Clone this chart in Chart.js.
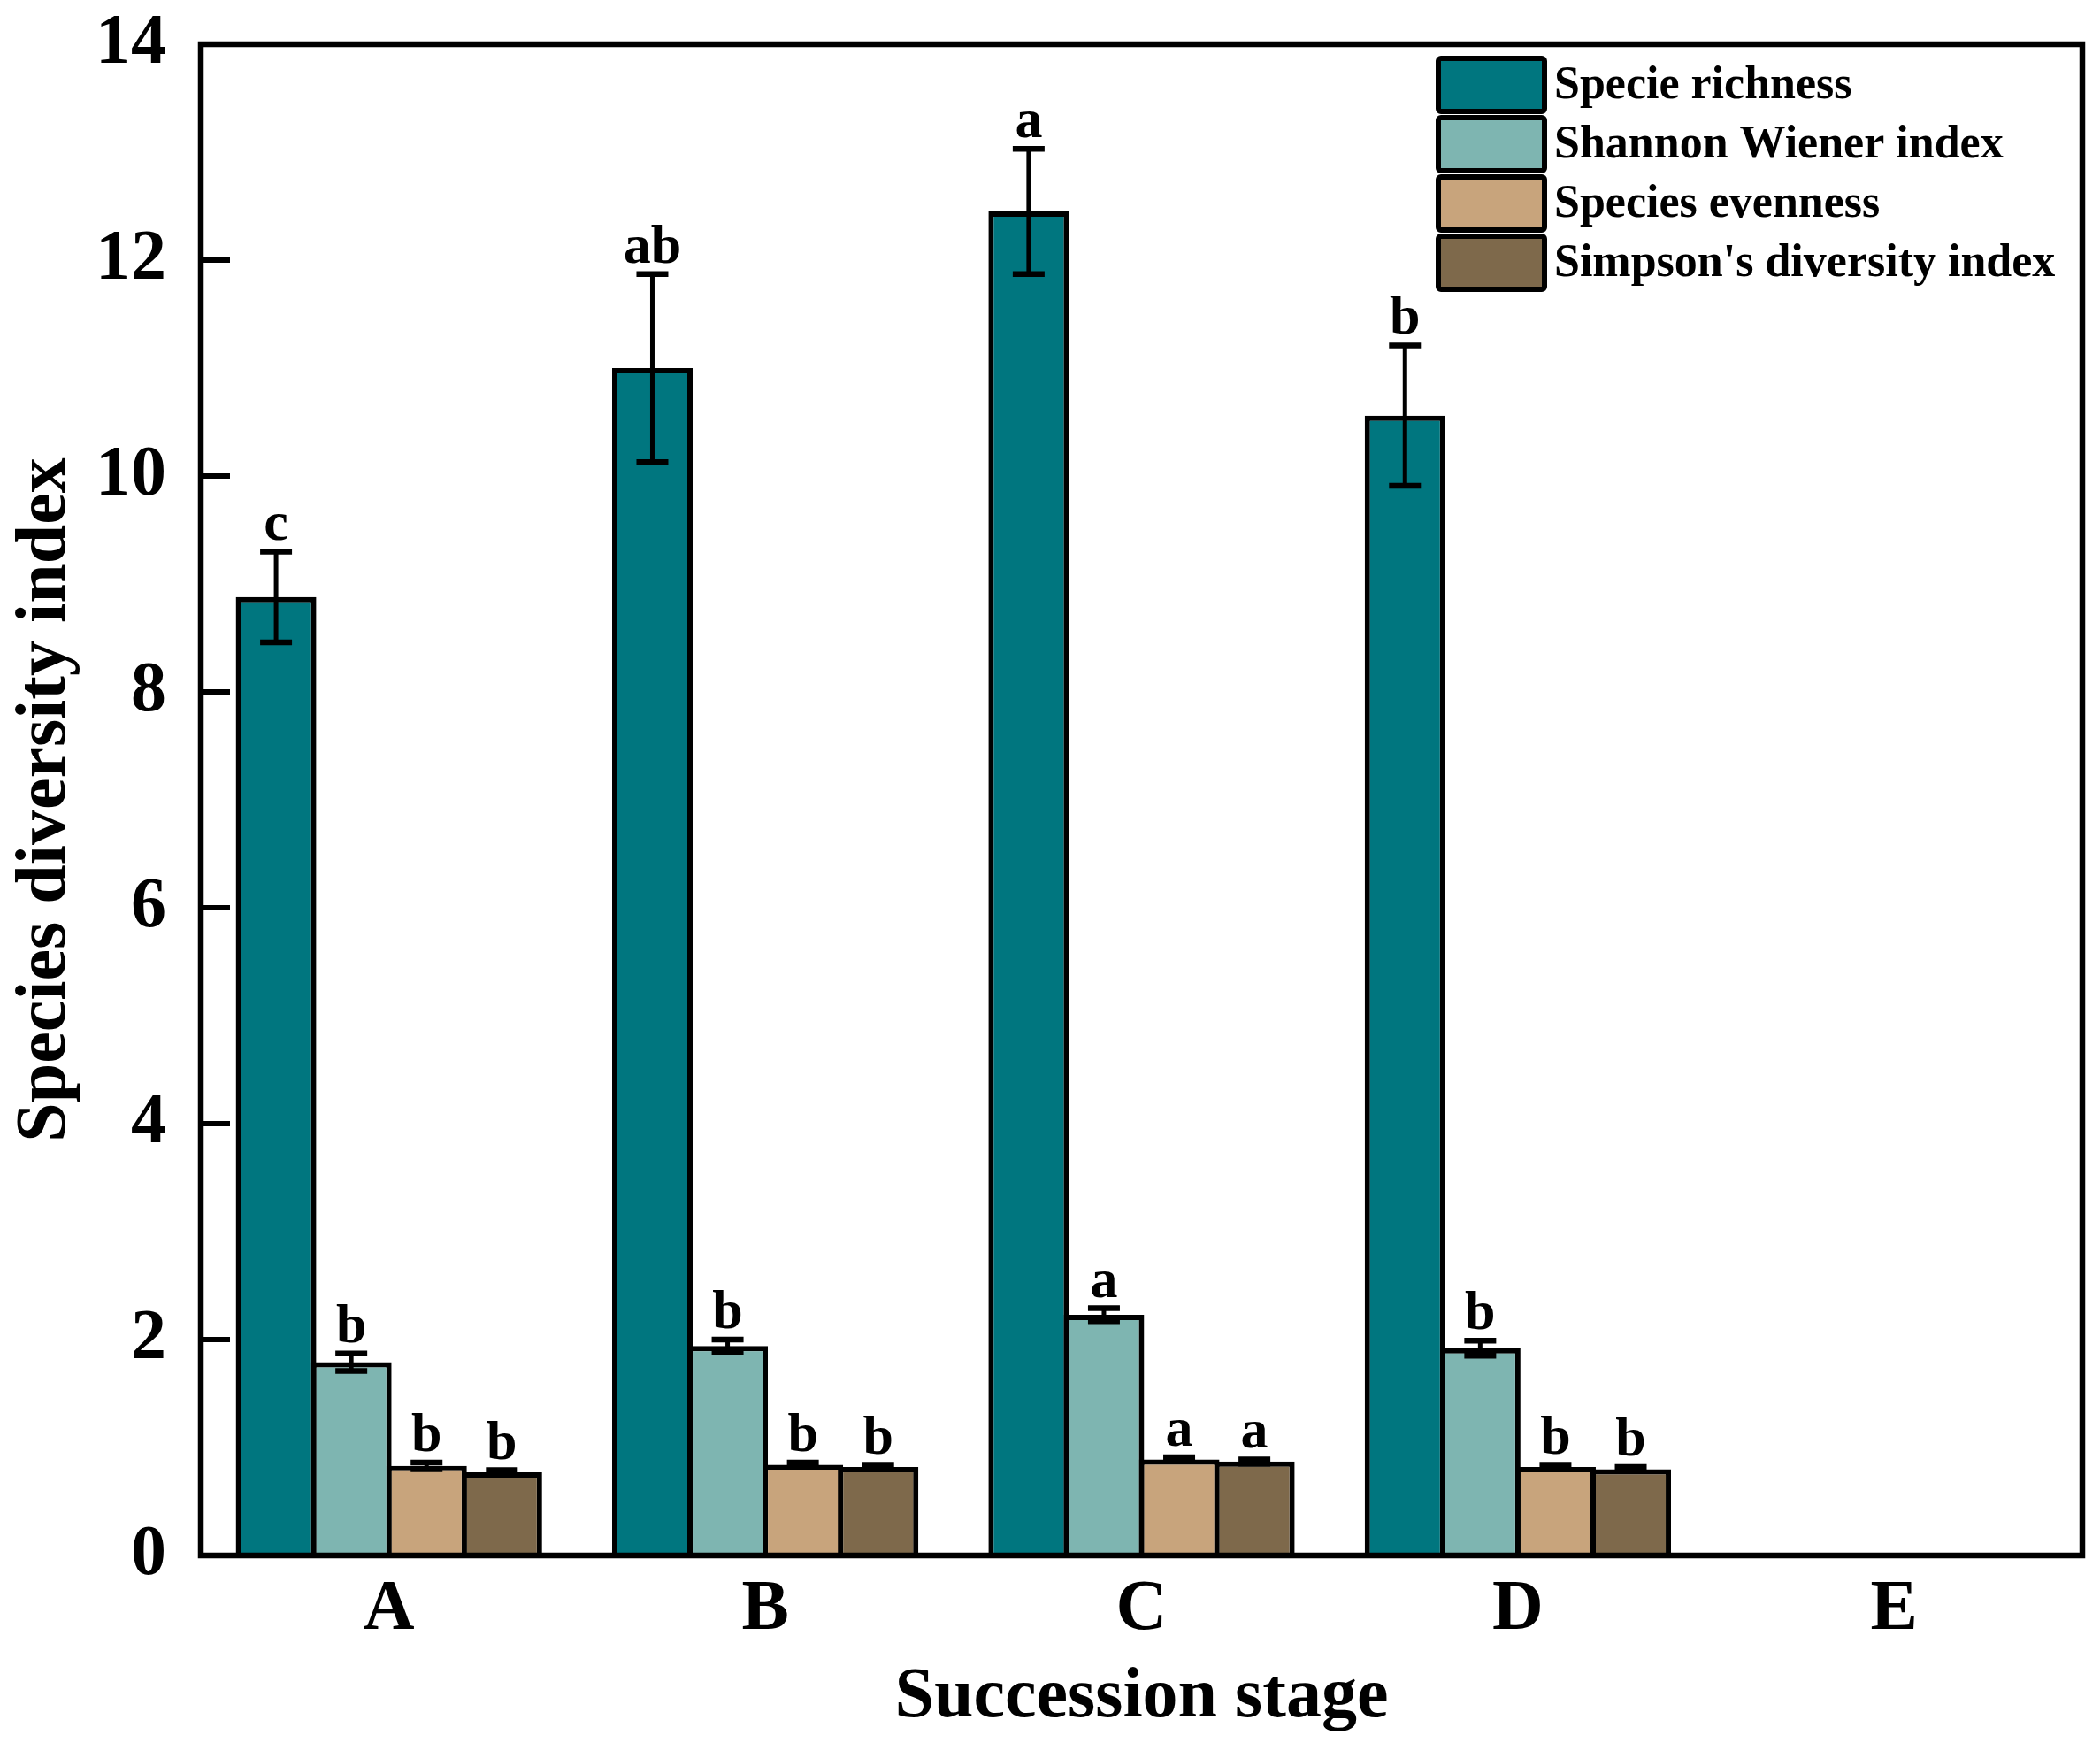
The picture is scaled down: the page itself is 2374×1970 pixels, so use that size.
<!DOCTYPE html>
<html><head><meta charset="utf-8">
<script src="https://cdn.jsdelivr.net/npm/chart.js@4.4.1/dist/chart.umd.min.js"></script>
<style>html,body{margin:0;padding:0;background:#fff;overflow:hidden;} canvas{display:block;}</style>
</head><body>
<canvas id="c" width="2374" height="1970" style="width:2374px;height:1970px"></canvas>
<script>
// ---- data ----
const categories = ['A', 'B', 'C', 'D', 'E'];
const seriesNames = ['Specie richness', 'Shannon Wiener index', 'Species evenness', "Simpson's diversity index"];
const seriesColors = ['#00767F', '#7EB5B1', '#C8A47C', '#7E694B'];
const richness    = [8.88, 11.00, 12.45, 10.56, null];
const richnessErr = [0.42, 0.87, 0.58, 0.65, null];
const richnessSig = ['c', 'ab', 'a', 'b', ''];
const shannon     = [1.79, 1.94, 2.23, 1.92, null];
const shannonErr  = [0.08, 0.06, 0.06, 0.07, null];
const shannonSig  = ['b', 'b', 'a', 'b', ''];
const evenness    = [0.83, 0.84, 0.89, 0.82, null];
const evennessErr = [0.03, 0.02, 0.02, 0.02, null];
const evennessSig = ['b', 'b', 'a', 'b', ''];
const simpson     = [0.77, 0.82, 0.87, 0.80, null];
const simpsonErr  = [0.02, 0.02, 0.02, 0.02, null];
const simpsonSig  = ['b', 'b', 'a', 'b', ''];
const yTicks = [0, 2, 4, 6, 8, 10, 12, 14];
const xTitle = 'Succession stage';
const yTitle = 'Species diversity index';

const SERIES = [richness, shannon, evenness, simpson];
const ERRS = [richnessErr, shannonErr, evennessErr, simpsonErr];
const SIGS = [richnessSig, shannonSig, evennessSig, simpsonSig];

const FONT = "'Liberation Serif','Times New Roman',serif";

const decor = {
  id: 'decor',
  afterDatasetsDraw(chart) {
    const ctx = chart.ctx, ys = chart.scales.y;
    chart.data.datasets.forEach((ds, di) => {
      const meta = chart.getDatasetMeta(di);
      meta.data.forEach((bar, i) => {
        const v = SERIES[di][i];
        if (v == null) return;
        const e = ERRS[di][i];
        const x = bar.x;
        const yt = ys.getPixelForValue(v + e), yb = ys.getPixelForValue(v - e);
        ctx.save();
        ctx.strokeStyle = '#000';
        ctx.lineWidth = 5;
        ctx.beginPath(); ctx.moveTo(x, yt); ctx.lineTo(x, yb); ctx.stroke();
        ctx.lineWidth = 6.5;
        ctx.beginPath();
        ctx.moveTo(x - 18, yt); ctx.lineTo(x + 18, yt);
        ctx.moveTo(x - 18, yb); ctx.lineTo(x + 18, yb);
        ctx.stroke();
        ctx.fillStyle = '#000';
        ctx.font = 'bold 62px ' + FONT;
        ctx.textAlign = 'center';
        ctx.textBaseline = 'alphabetic';
        ctx.fillText(SIGS[di][i], x, yt - 13);
        ctx.restore();
      });
    });
  },
  afterDraw(chart) {
    const ctx = chart.ctx, a = chart.chartArea, ys = chart.scales.y;
    ctx.save();
    // inward ticks
    ctx.strokeStyle = '#000';
    ctx.lineWidth = 6;
    ys.ticks.forEach(t => {
      if (t.value <= ys.min || t.value >= ys.max) return;
      const py = ys.getPixelForValue(t.value);
      ctx.beginPath(); ctx.moveTo(a.left, py); ctx.lineTo(a.left + 33, py); ctx.stroke();
    });
    // frame
    ctx.lineWidth = 6.5;
    ctx.strokeRect(a.left, a.top, a.right - a.left, a.bottom - a.top);
    // legend
    const lx = 1626, ly0 = 96, step = 67, bw = 120, bh = 60;
    chart.data.datasets.forEach((ds, i) => {
      const cy = ly0 + i * step;
      ctx.fillStyle = ds.backgroundColor;
      ctx.lineWidth = 6;
      ctx.strokeStyle = '#000';
      ctx.beginPath();
      ctx.roundRect(lx, cy - bh / 2, bw, bh, 3);
      ctx.fill(); ctx.stroke();
      ctx.fillStyle = '#000';
      ctx.font = 'bold 52px ' + FONT;
      ctx.textAlign = 'left';
      ctx.textBaseline = 'middle';
      ctx.fillText(ds.label, lx + bw + 11, cy + 2);
    });
    ctx.restore();
  }
};

new Chart(document.getElementById('c'), {
  type: 'bar',
  data: {
    labels: categories,
    datasets: SERIES.map((d, i) => ({
      label: seriesNames[i],
      data: d,
      backgroundColor: seriesColors[i],
      borderColor: '#000',
      borderWidth: 6,
      barPercentage: 1.07,
      categoryPercentage: 0.8
    }))
  },
  options: {
    responsive: false,
    animation: false,
    devicePixelRatio: 1,
    layout: { padding: { left: 0, top: 50, right: 20, bottom: 0 } },
    plugins: { legend: { display: false }, tooltip: { enabled: false } },
    scales: {
      x: {
        grid: { display: false, drawTicks: false },
        border: { display: false },
        ticks: { color: '#000', font: { family: FONT, size: 80, weight: 'bold' }, padding: 14 },
        title: { display: true, text: xTitle, color: '#000', font: { family: FONT, size: 80, weight: 'bold', lineHeight: 1.2 }, padding: { top: 0, bottom: 3 } },
        afterFit(s) { s.height = 212; s.paddingLeft = 0; s.paddingRight = 0; }
      },
      y: {
        min: 0, max: 14,
        grid: { display: false, drawTicks: false },
        border: { display: false },
        afterBuildTicks(s) { s.ticks = yTicks.map(v => ({ value: v })); },
        ticks: { color: '#000', font: { family: FONT, size: 80, weight: 'bold' }, padding: 39 },
        title: { display: true, text: yTitle, color: '#000', font: { family: FONT, size: 80, weight: 'bold', lineHeight: 1.2 }, padding: { top: 4, bottom: 0 } },
        afterFit(s) { s.width = 227; s.paddingTop = 0; s.paddingBottom = 0; }
      }
    }
  },
  plugins: [decor]
});
</script>
</body></html>
